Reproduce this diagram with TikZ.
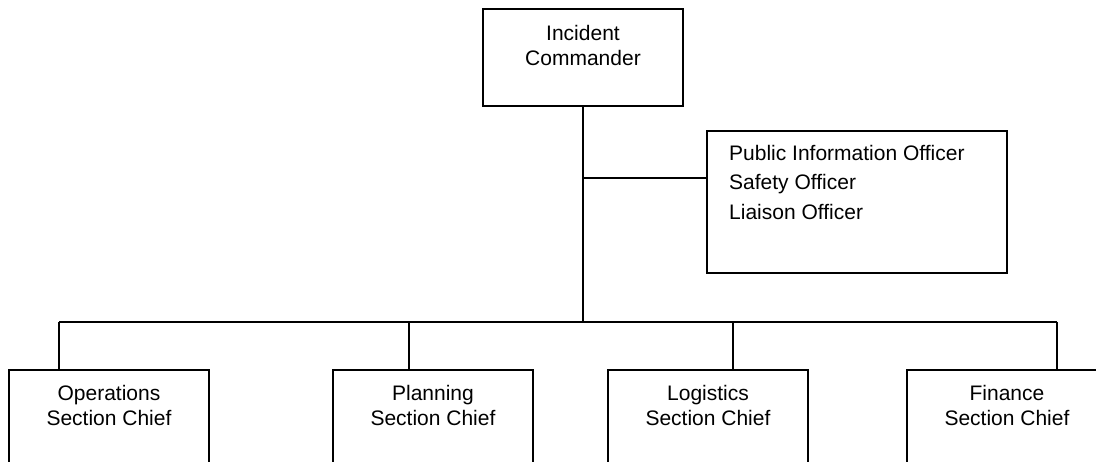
\documentclass[tikz,border=0pt]{standalone}
\usepackage{fontspec}
\setmainfont{Liberation Sans}
\begin{document}
\begin{tikzpicture}[x=1pt,y=-1pt,
  box/.style={draw=black,line width=1.3pt,rectangle,inner sep=0pt,minimum width=200pt},
  lbl/.style={inner sep=0pt,align=center,font=\fontsize{21}{25}\selectfont,anchor=north},
  conn/.style={draw=black,line width=1.1pt}]
\useasboundingbox (0,0) rectangle (1096,462);
\clip (0,0) rectangle (1096,462);
\fill[white] (0,0) rectangle (1096,462);
% top box
\node[box,minimum height=97pt] (ic) at (583,57.5) {};
\node[lbl] (ictext) at (583,25) {Incident\\Commander};
% staff box
\node[box,minimum width=300pt,minimum height=142pt] (staff) at (857,202) {};
\node[inner sep=0pt,align=left,anchor=north west,font=\fontsize{21}{29.5}\selectfont] (stafftext) at (729,145) {Public Information Officer\\Safety Officer\\Liaison Officer};
% section boxes (open at the bottom of the page)
\node[box,minimum height=140pt] (ops) at (109,440) {};
\node[box,minimum height=140pt] (plan) at (433,440) {};
\node[box,minimum height=140pt] (log) at (708,440) {};
\node[box,minimum height=140pt] (fin) at (1007,440) {};
\node[lbl] (opstext) at (109,385) {Operations\\Section Chief};
\node[lbl] (plantext) at (433,385) {Planning\\Section Chief};
\node[lbl] (logtext) at (708,385) {Logistics\\Section Chief};
\node[lbl] (fintext) at (1007,385) {Finance\\Section Chief};
% connectors
\coordinate (hub) at (583,322);
\coordinate (tee) at (583,178);
\coordinate (busL) at (59,322);
\coordinate (busP) at (409,322);
\coordinate (busG) at (733,322);
\coordinate (busR) at (1057,322);
\draw[conn] (ic.south) -- (hub);
\draw[conn] (tee) -- (tee -| staff.west);
\draw[conn] (busL) -- (busR);
\draw[conn] (busL) -- (busL |- ops.north);
\draw[conn] (busP) -- (busP |- plan.north);
\draw[conn] (busG) -- (busG |- log.north);
\draw[conn] (busR) -- (busR |- fin.north);
\end{tikzpicture}
\end{document}
